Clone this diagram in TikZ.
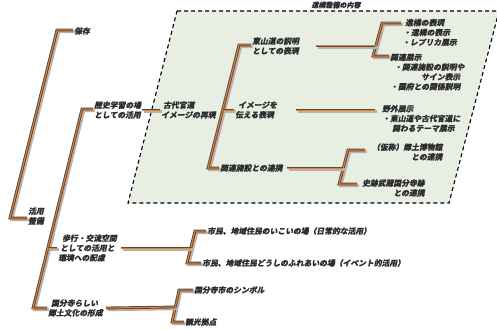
\documentclass[tikz,border=0pt]{standalone}
\usepackage{fontspec}
\newfontfamily\jp[FakeSlant=0.2,FakeBold=0.2]{Noto Sans CJK JP}
\definecolor{txt}{HTML}{2E2E2E}
\definecolor{brdark}{HTML}{74401E}
\definecolor{brlight}{HTML}{C48A50}
\definecolor{areafill}{HTML}{E8EFE2}
\tikzset{
  lbl/.style={font=\jp\bfseries\fontsize{7.8}{9.8}\selectfont, text=txt, inner sep=1pt, anchor=west, align=left},
  br/.style={line width=2.8pt, draw=brdark, line join=miter, line cap=butt,
    preaction={draw=black!30, line width=2.8pt, transform canvas={shift={(1.8pt,-1.8pt)}}},
    postaction={draw=brlight, line width=1pt}},
  area/.style={draw=black, line width=1.1pt, dash pattern=on 4pt off 3pt, fill=areafill}
}
\begin{document}
\begin{tikzpicture}[x=1pt,y=-1pt]
\useasboundingbox (0,0) rectangle (497,329);
% area
\draw[area] (177,11) -- (499,11) -- (449,203) -- (128,203) -- cycle;
\node[font=\jp\bfseries\fontsize{7}{8}\selectfont, text=txt, inner sep=0pt] (title) at (336,5) {遺構整備の内容};

% text nodes
\node[lbl] (hozon) at (73,31) {保存};
\node[lbl] (katsuyou) at (27,216) {活用\\整備};
\node[lbl] (rekishi) at (93,110) {歴史学習の場\\としての活用};
\node[lbl] (hokou) at (57,248) {\hspace*{4pt}歩行・交流空間\\\hspace*{2pt}としての活用と\\環境への配慮};
\node[lbl] (kokubun) at (47,308) {\hspace*{3pt}国分寺らしい\\郷土文化の形成};
\node[lbl] (kodai) at (160,110) {\hspace*{2pt}古代官道\\イメージの再現};
\node[lbl] (higashi) at (251,46) {東山道の説明\\としての表現};
\node[lbl] (image) at (234,110) {\hspace*{3pt}イメージを\\伝える表現};
\node[lbl] (kanren) at (219,168) {関連施設との連携};
\node[lbl] (iko) at (401,32.5) {\hspace*{3pt}遺構の表現\\\hspace*{1pt}・遺構の表示\\・レプリカ展示};
\node[lbl] (ktenji) at (389,72) {関連展示\\\hspace*{4pt}・関連施設の説明や\\\hspace*{31pt}サイン表示\\・国府との関係説明};
\node[lbl] (yagai) at (381,118.5) {野外展示\\・東山道や古代官道に\\\hspace*{10pt}関わるテーマ展示};
\node[lbl, align=right] (kyodo) at (371,152) {（仮称）郷土博物館\\との連携};
\node[lbl, align=right] (shiseki) at (361,188) {史跡武蔵国分寺跡\\との連携};
\node[lbl] (ikoi) at (206,231) {市民、地域住民のいこいの場（日常的な活用）};
\node[lbl] (fureai) at (201,263) {市民、地域住民どうしのふれあいの場（イベント的活用）};
\node[lbl] (symbol) at (193,290) {国分寺市のシンボル};
\node[lbl] (kanko) at (184,322) {観光拠点};

% bracket corners
\coordinate (b1t) at (57,30);   \coordinate (b1b) at (10,218);
\coordinate (b2t) at (82,109);  \coordinate (b2b) at (33,308);  \coordinate (b2m) at (47.5,248);
\coordinate (b3t) at (239,45);  \coordinate (b3b) at (208,168); \coordinate (b3m) at (222.6,110);
\coordinate (b4t) at (382,23);  \coordinate (b4b) at (373,56);  \coordinate (b4m) at (375.3,46);
\coordinate (b5t) at (348,150); \coordinate (b5b) at (339,184); \coordinate (b5m) at (343,168);
\coordinate (b6t) at (195,231); \coordinate (b6b) at (187,263); \coordinate (b6m) at (190.7,248);
\coordinate (b7t) at (179,290); \coordinate (b7b) at (172,322); \coordinate (b7m) at (175.3,307);

% brackets
\draw[br] (hozon.west |- b1t) -- (b1t) -- (b1b) -- (katsuyou.west |- b1b);
\draw[br] (rekishi.west |- b2t) -- (b2t) -- (b2b) -- (kokubun.west |- b2b);
\draw[br] (b2m) -- (hokou.west |- b2m);
\draw[br] (higashi.west |- b3t) -- (b3t) -- (b3b) -- (kanren.west);
\draw[br] (iko.west |- b4t) -- (b4t) -- (b4b) -- (ktenji.west |- b4b);
\draw[br, shorten <=6pt, shorten >=4pt] (kyodo.west |- b5t) -- (b5t) -- (b5b) -- (shiseki.west |- b5b);
\draw[br] (ikoi.west |- b6t) -- (b6t) -- (b6b) -- (fureai.west |- b6b);
\draw[br] (symbol.west |- b7t) -- (b7t) -- (b7b) -- (kanko.west |- b7b);

% connectors
\draw[br] (rekishi.east) -- (kodai.west);
\draw[br] (b3m) -- (image.west);
\draw[br, shorten <=16pt] (higashi.east) -- (b4m);
\draw[br, shorten <=18pt, shorten >=6pt] (image.east) -- (yagai.west |- image.east);
\draw[br, shorten <=3pt] (kanren.east) -- (b5m);
\draw[br, shorten <=3pt] (hokou.east) -- (b6m);
\draw[br, shorten <=2pt] (kokubun.east) -- (b7m);
\end{tikzpicture}
\end{document}
